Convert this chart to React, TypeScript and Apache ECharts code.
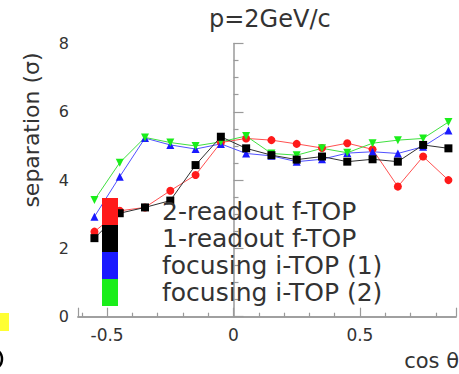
import React, { useEffect, useRef } from "react";
import * as echarts from "echarts";

const cosTheta = [-0.55, -0.45, -0.35, -0.25, -0.15, -0.05, 0.05, 0.15, 0.25, 0.35, 0.45, 0.55, 0.65, 0.75, 0.85];
const twoReadout = [2.49, 3.1, 3.2, 3.69, 4.15, 5.1, 5.22, 5.17, 5.06, 4.94, 5.08, 4.9, 3.81, 4.69, 4.0];
const oneReadout = [2.3, 3.03, 3.2, 3.4, 4.44, 5.27, 4.93, 4.73, 4.6, 4.69, 4.54, 4.61, 4.54, 5.03, 4.93];
const focusing1 = [2.93, 4.1, 5.23, 5.03, 4.91, 5.06, 4.78, 4.71, 4.54, 4.61, 4.79, 4.83, 4.78, 4.98, 5.45];
const focusing2 = [3.42, 4.51, 5.25, 5.1, 5.0, 5.12, 5.29, 4.78, 4.73, 4.93, 4.8, 5.08, 5.17, 5.22, 5.7];
const seriesNames = ["2-readout f-TOP", "1-readout f-TOP", "focusing i-TOP (1)", "focusing i-TOP (2)"];

const FONT = "DejaVu Sans";
const AXIS = "#9a9a9a";
const TXT = "#333";

const pairs = (ys: number[]) => cosTheta.map((x, i) => [x, ys[i]]);

export default function App() {
  const ref = useRef<HTMLDivElement>(null);
  useEffect(() => {
    if (!ref.current) return;
    const chart = echarts.init(ref.current, null, { renderer: "svg" });
    const mk = (name: string, ys: number[], color: string, lineColor: string, symbol: string, rot = 0) => ({
      name,
      type: "line",
      data: pairs(ys),
      symbol,
      symbolSize: 8,
      symbolRotate: rot,
      itemStyle: { color },
      lineStyle: { color: lineColor, width: 1 },
    });
    chart.setOption({
      animation: false,
      backgroundColor: "#fff",
      title: {
        text: "p=2GeV/c",
        left: 209,
        top: 7,
        padding: 0,
        textStyle: { fontFamily: FONT, fontSize: 24, fontWeight: "normal", color: TXT },
      },
      grid: { left: 78, top: 43.5, right: 0, bottom: 57.3, containLabel: false },
      legend: {
        data: seriesNames,
        orient: "vertical",
        left: 102,
        top: 198,
        padding: 0,
        itemWidth: 16,
        itemHeight: 27,
        itemGap: 0,
        icon: "rect",
        selectedMode: false,
        textStyle: { fontFamily: FONT, fontSize: 25, color: TXT, lineHeight: 27, padding: [0, 0, 0, 39] },
      },
      xAxis: [
        {
          type: "value",
          min: -0.615,
          max: 0.88,
          splitNumber: 3,
          minInterval: 0.5,
          maxInterval: 0.5,
          axisLine: { show: true, onZero: false, lineStyle: { color: AXIS, width: 1.5 } },
          axisTick: { show: true, inside: true, length: 9, lineStyle: { color: AXIS, width: 1.2 } },
          minorTick: { show: true, splitNumber: 5, length: 4, lineStyle: { color: AXIS, width: 1.2 } },
          splitLine: { show: false },
          axisLabel: {
            margin: 10,
            fontFamily: FONT,
            fontSize: 17,
            color: TXT,
            formatter: (v: number) => (Math.abs(v * 2 - Math.round(v * 2)) < 1e-6 ? String(Math.round(v * 10) / 10) : ""),
          },
        },
        {
          type: "value",
          position: "top",
          min: -0.615,
          max: 0.88,
          axisLine: { show: true, lineStyle: { color: AXIS, width: 1.5 } },
          axisTick: { show: false },
          axisLabel: { show: false },
          splitLine: { show: false },
        },
      ],
      yAxis: {
        type: "value",
        min: 0,
        max: 8,
        interval: 2,
        axisLine: { show: true, lineStyle: { color: AXIS, width: 1.5 } },
        axisTick: { show: true, inside: true, length: 10, lineStyle: { color: AXIS, width: 1.2 } },
        minorTick: { show: true, splitNumber: 4, length: 5, lineStyle: { color: AXIS, width: 1.2 } },
        splitLine: { show: false },
        axisLabel: { margin: 9, fontFamily: FONT, fontSize: 16, color: TXT },
      },
      series: [
        mk(seriesNames[0], twoReadout, "#ff1a1a", "#ff5050", "circle"),
        mk(seriesNames[2], focusing1, "#1a1aff", "#5050ff", "triangle"),
        mk(seriesNames[3], focusing2, "#1aee1a", "#40e040", "triangle", 180),
        mk(seriesNames[1], oneReadout, "#000000", "#303030", "rect"),
      ],
      graphic: [
        {
          type: "text",
          x: 31,
          y: 130,
          rotation: Math.PI / 2,
          style: {
            text: "separation (σ)",
            fontFamily: FONT,
            fontSize: 22,
            fill: TXT,
            align: "center",
            verticalAlign: "middle",
          },
        },
        {
          type: "text",
          x: 459,
          y: 361,
          style: { text: "cos θ", fontFamily: FONT, fontSize: 21, fill: TXT, align: "right", verticalAlign: "middle" },
        },
        { type: "rect", shape: { x: 0, y: 313, width: 9, height: 18 }, style: { fill: "#ffff33" } },
        {
          type: "arc",
          shape: { cx: -9, cy: 359, r: 11, startAngle: -0.95, endAngle: 0.95 },
          style: { stroke: "#000", lineWidth: 2.5, fill: "none" },
        },
      ],
    });
    return () => chart.dispose();
  }, []);
  return <div ref={ref} style={{ position: "fixed", left: 0, top: 0, width: 459, height: 374 }} />;
}
